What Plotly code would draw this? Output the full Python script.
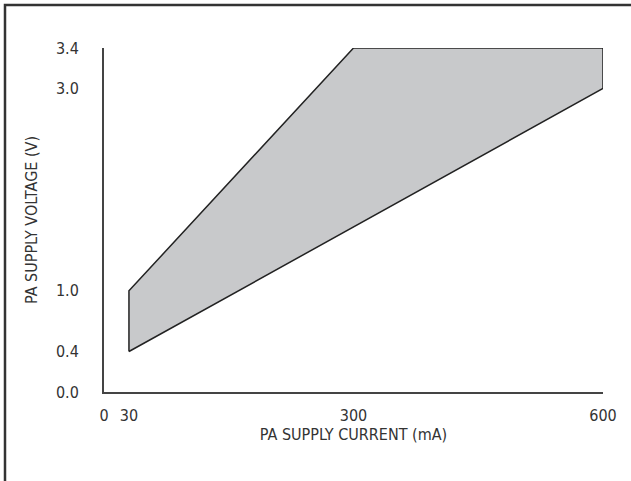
import plotly.graph_objects as go

# Safe operating region outline (PA supply current vs voltage)
current_ma = [30, 30, 300, 600, 600, 30]
voltage_v = [0.4, 1.0, 3.4, 3.4, 3.0, 0.4]

x_ticks = [0, 30, 300, 600]
y_ticks = [0.0, 0.4, 1.0, 3.0, 3.4]

FONT = "DejaVu Sans Condensed, Liberation Sans Narrow, Arial Narrow, sans-serif"
INK = "#333333"

fig = go.Figure()
fig.add_trace(go.Scatter(
    x=current_ma, y=voltage_v,
    mode="lines", fill="toself",
    fillcolor="#c8c9cb",
    line=dict(color="#222222", width=1.5),
    hoverinfo="skip", showlegend=False,
))

fig.update_xaxes(
    range=[0, 600], tickvals=x_ticks, ticktext=[str(v) for v in x_ticks],
    showgrid=False, zeroline=False, showline=True, linecolor="#444444", linewidth=2,
    ticks="", ticklabelstandoff=8,
    tickfont=dict(family=FONT, size=16, color=INK),
    title=dict(text="PA SUPPLY CURRENT (mA)", standoff=5,
               font=dict(family=FONT, size=16, color=INK)),
)
fig.update_yaxes(
    range=[0, 3.4], tickvals=y_ticks, ticktext=[f"{v:.1f}" for v in y_ticks],
    showgrid=False, zeroline=False, showline=True, linecolor="#444444", linewidth=2,
    ticks="", ticklabelstandoff=20,
    tickfont=dict(family=FONT, size=16, color=INK),
    title=dict(text="PA SUPPLY VOLTAGE (V)", standoff=14,
               font=dict(family=FONT, size=16, color=INK)),
)

# frame around the figure (only top and left edges fall inside the view)
fig.add_shape(type="rect", xref="paper", yref="paper",
              x0=-0.1984, x1=1.2, y0=-0.4, y1=1.125,
              line=dict(color="#333333", width=2.5), fillcolor="rgba(0,0,0,0)",
              layer="above")

fig.update_layout(
    width=631, height=481,
    margin=dict(l=104, r=28, t=48, b=89),
    plot_bgcolor="white", paper_bgcolor="white",
)

fig.write_html("out.html", config={"displayModeBar": False},
               post_script="document.body.style.margin='0';")
